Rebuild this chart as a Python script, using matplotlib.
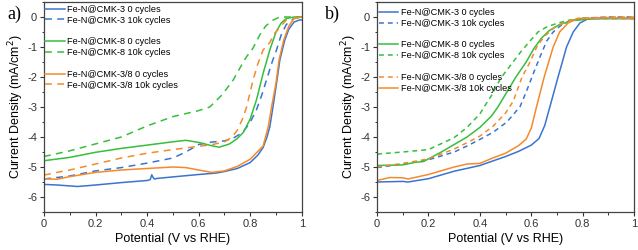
import numpy as np
import matplotlib
matplotlib.use('Agg')
import matplotlib.pyplot as plt
from matplotlib.lines import Line2D
from matplotlib.ticker import MultipleLocator

plt.rcParams['font.family'] = ['Liberation Sans', 'DejaVu Sans']

# Couleurs des échantillons
BLUE = '#3a74cf'
GREEN = '#35bf3c'
ORANGE = '#f48a2a'

# ---- Panel a : courbes ORR ----
a_cmk3_0_x = [0, 0.05, 0.1, 0.13, 0.2, 0.3, 0.4, 0.412, 0.418, 0.422, 0.428, 0.44, 0.5, 0.6, 0.67,
              0.7, 0.75, 0.8, 0.83, 0.85, 0.865, 0.876, 0.89, 0.902, 0.915, 0.934, 0.95, 0.97, 0.99, 1.0]
a_cmk3_0_y = [-5.58, -5.6, -5.63, -5.65, -5.6, -5.52, -5.45, -5.42, -5.26, -5.33, -5.4, -5.38, -5.33, -5.25, -5.2,
              -5.15, -5.05, -4.85, -4.6, -4.35, -4.0, -3.66, -2.9, -2.21, -1.43, -0.77, -0.4, -0.17, -0.1, -0.1]

a_cmk3_10k_x = [0, 0.1, 0.2, 0.3, 0.4, 0.5, 0.55, 0.6, 0.65, 0.7, 0.734, 0.77, 0.798, 0.824, 0.845,
                0.863, 0.885, 0.902, 0.92, 0.94, 0.97, 1.0]
a_cmk3_10k_y = [-5.4, -5.3, -5.13, -5.02, -4.87, -4.7, -4.5, -4.25, -4.17, -4.13, -4.04, -3.85, -3.54, -3.1, -2.6,
                -2.1, -1.5, -1.1, -0.6, -0.25, -0.05, 0.0]

a_cmk8_0_x = [0, 0.1, 0.2, 0.3, 0.4, 0.5, 0.55, 0.6, 0.65, 0.68, 0.72, 0.75, 0.773, 0.8, 0.824, 0.85,
              0.876, 0.9, 0.92, 0.94, 0.97, 1.0]
a_cmk8_0_y = [-4.79, -4.68, -4.51, -4.38, -4.27, -4.16, -4.11, -4.18, -4.29, -4.34, -4.23, -4.05, -3.85, -3.4,
              -2.77, -1.88, -1.1, -0.5, -0.2, -0.05, 0.0, 0.0]

a_cmk8_10k_x = [0, 0.1, 0.2, 0.3, 0.4, 0.5, 0.6, 0.643, 0.69, 0.734, 0.76, 0.786, 0.81, 0.837, 0.86,
                0.889, 0.915, 0.95, 1.0]
a_cmk8_10k_y = [-4.65, -4.46, -4.23, -4.0, -3.63, -3.32, -3.12, -3.0, -2.6, -2.1, -1.7, -1.32, -1.05, -0.6,
                -0.3, -0.1, 0.0, 0.0, 0.0]

a_cmk38_0_x = [0, 0.05, 0.1, 0.2, 0.3, 0.4, 0.5, 0.55, 0.6, 0.65, 0.7, 0.75, 0.8, 0.85, 0.87, 0.885,
               0.9, 0.912, 0.93, 0.95, 0.97, 1.0]
a_cmk38_0_y = [-5.39, -5.41, -5.32, -5.18, -5.1, -5.05, -5.0, -5.02, -5.1, -5.18, -5.13, -4.98, -4.74, -4.3,
               -3.66, -2.9, -2.2, -1.43, -0.77, -0.3, -0.05, 0.0]

a_cmk38_10k_x = [0, 0.05, 0.1, 0.2, 0.3, 0.4, 0.5, 0.6, 0.65, 0.7, 0.73, 0.75, 0.77, 0.786, 0.811, 0.83,
                 0.85, 0.876, 0.895, 0.94, 1.0]
a_cmk38_10k_y = [-5.27, -5.18, -5.1, -4.9, -4.7, -4.54, -4.42, -4.31, -4.26, -4.16, -4.0, -3.77, -3.4, -3.0,
                 -2.1, -1.55, -1.1, -0.85, -0.54, -0.1, 0.0]

# ---- Panel b ----
b_cmk3_0_x = [0, 0.1, 0.12, 0.2, 0.3, 0.4, 0.5, 0.55, 0.6, 0.63, 0.652, 0.672, 0.704, 0.737, 0.763,
              0.789, 0.82, 0.9, 1.0]
b_cmk3_0_y = [-5.5, -5.48, -5.5, -5.39, -5.14, -4.95, -4.65, -4.48, -4.27, -4.05, -3.62, -3.0, -2.0, -1.0,
              -0.5, -0.2, -0.06, -0.05, -0.05]

b_cmk3_10k_x = [0, 0.1, 0.2, 0.3, 0.35, 0.4, 0.45, 0.505, 0.53, 0.556, 0.58, 0.608, 0.635, 0.66, 0.685,
                0.712, 0.75, 0.8, 0.9, 1.0]
b_cmk3_10k_y = [-5.02, -4.9, -4.76, -4.5, -4.3, -4.08, -3.85, -3.5, -3.25, -2.99, -2.5, -1.88, -1.3, -0.8,
                -0.5, -0.3, -0.12, -0.04, 0.0, 0.0]

b_cmk8_0_x = [0, 0.1, 0.15, 0.18, 0.25, 0.3, 0.35, 0.4, 0.445, 0.47, 0.505, 0.54, 0.58, 0.61, 0.64, 0.67,
              0.71, 0.76, 0.85, 1.0]
b_cmk8_0_y = [-4.95, -4.93, -4.84, -4.82, -4.5, -4.25, -4.0, -3.68, -3.3, -3.0, -2.5, -2.0, -1.5, -1.05, -0.7,
              -0.45, -0.25, -0.12, -0.05, -0.05]

b_cmk8_10k_x = [0, 0.1, 0.2, 0.3, 0.35, 0.4, 0.42, 0.45, 0.48, 0.52, 0.56, 0.6, 0.626, 0.66, 0.704,
                0.75, 0.85, 1.0]
b_cmk8_10k_y = [-4.57, -4.5, -4.42, -4.02, -3.68, -3.23, -2.95, -2.55, -2.05, -1.6, -1.15, -0.75, -0.5, -0.33,
                -0.2, -0.1, -0.05, -0.05]

b_cmk38_0_x = [0, 0.1, 0.2, 0.3, 0.35, 0.4, 0.45, 0.5, 0.53, 0.564, 0.595, 0.621, 0.65, 0.686, 0.73,
               0.78, 0.9, 1.0]
b_cmk38_0_y = [-5.0, -4.88, -4.73, -4.4, -4.19, -3.97, -3.65, -3.2, -2.8, -2.0, -1.5, -1.0, -0.65, -0.38,
               -0.18, -0.05, 0.0, 0.0]

b_cmk38_10k_x = [0, 0.05, 0.1, 0.12, 0.2, 0.3, 0.35, 0.4, 0.45, 0.5, 0.55, 0.58, 0.6, 0.62, 0.65, 0.685,
                 0.71, 0.743, 0.78, 0.9, 1.0]
b_cmk38_10k_y = [-5.45, -5.35, -5.36, -5.4, -5.25, -5.0, -4.9, -4.88, -4.7, -4.54, -4.29, -4.07, -3.7,
                 -3.0, -2.0, -1.0, -0.5, -0.2, -0.05, -0.03, -0.05]

labels_a = ['Fe-N@CMK-3 0 cycles', 'Fe-N@CMK-3 10k cycles',
            'Fe-N@CMK-8 0 cycles', 'Fe-N@CMK-8 10k cycles',
            'Fe-N@CMK-3/8 0 cycles', 'Fe-N@CMK-3/8 10k cycles']

fig = plt.figure(figsize=(6.38, 2.5), dpi=100)
ax_a = fig.add_axes([0.069, 0.152, 0.404, 0.84])
ax_b = fig.add_axes([0.591, 0.152, 0.403, 0.84])

LW = 1.1
dash_a = (4.5, 3.5)
dash_b = (3.2, 2.6)

# panel a
ax_a.plot(a_cmk3_0_x, a_cmk3_0_y, color=BLUE, lw=LW)
ax_a.plot(a_cmk3_10k_x, a_cmk3_10k_y, color=BLUE, lw=LW, ls='--', dashes=dash_a)
ax_a.plot(a_cmk8_0_x, a_cmk8_0_y, color=GREEN, lw=LW)
ax_a.plot(a_cmk8_10k_x, a_cmk8_10k_y, color=GREEN, lw=LW, ls='--', dashes=dash_a)
ax_a.plot(a_cmk38_0_x, a_cmk38_0_y, color=ORANGE, lw=LW)
ax_a.plot(a_cmk38_10k_x, a_cmk38_10k_y, color=ORANGE, lw=LW, ls='--', dashes=dash_a)

# panel b
ax_b.plot(b_cmk3_0_x, b_cmk3_0_y, color=BLUE, lw=LW)
ax_b.plot(b_cmk3_10k_x, b_cmk3_10k_y, color=BLUE, lw=LW, ls='--', dashes=dash_b)
ax_b.plot(b_cmk8_0_x, b_cmk8_0_y, color=GREEN, lw=LW)
ax_b.plot(b_cmk8_10k_x, b_cmk8_10k_y, color=GREEN, lw=LW, ls='--', dashes=dash_b)
ax_b.plot(b_cmk38_0_x, b_cmk38_0_y, color=ORANGE, lw=LW, ls='--', dashes=dash_b)
ax_b.plot(b_cmk38_10k_x, b_cmk38_10k_y, color=ORANGE, lw=LW)


def blank():
    return Line2D([], [], color='none')


def legend_handles(dash, orange_swap=False):
    h = [Line2D([], [], color=BLUE, lw=LW),
         Line2D([], [], color=BLUE, lw=LW, ls='--', dashes=dash),
         blank(),
         Line2D([], [], color=GREEN, lw=LW),
         Line2D([], [], color=GREEN, lw=LW, ls='--', dashes=dash),
         blank()]
    if orange_swap:
        h += [Line2D([], [], color=ORANGE, lw=LW, ls='--', dashes=dash),
              Line2D([], [], color=ORANGE, lw=LW)]
    else:
        h += [Line2D([], [], color=ORANGE, lw=LW),
              Line2D([], [], color=ORANGE, lw=LW, ls='--', dashes=dash)]
    return h


labels_leg = labels_a[:2] + [''] + labels_a[2:4] + [''] + labels_a[4:]

for ax, dash, swap, panel, anchor, px in [(ax_a, dash_a, False, 'a)', (-0.005, 1.0), 0.011),
                                          (ax_b, dash_b, True, 'b)', (-0.005, 0.985), 0.509)]:
    ax.set_xlim(0, 1)
    ax.set_ylim(-6.5, 0.5)
    ax.xaxis.set_major_locator(MultipleLocator(0.2))
    ax.xaxis.set_minor_locator(MultipleLocator(0.1))
    ax.yaxis.set_major_locator(MultipleLocator(1))
    ax.yaxis.set_minor_locator(MultipleLocator(0.5))
    ax.set_xticks([0, 0.2, 0.4, 0.6, 0.8, 1.0])
    ax.set_xticklabels(['0', '0.2', '0.4', '0.6', '0.8', '1'])
    ax.set_yticks([-6, -5, -4, -3, -2, -1, 0])
    ax.set_yticklabels(['-6', '-5', '-4', '-3', '-2', '-1', '0'])
    ax.tick_params(which='major', length=3, width=0.8, labelsize=8, colors='#333333', pad=2)
    ax.tick_params(which='minor', length=1.8, width=0.7, colors='#333333')
    for sp in ax.spines.values():
        sp.set_color('#444444')
        sp.set_linewidth(0.9)
    ax.set_xlabel('Potential (V vs RHE)', fontsize=9, labelpad=3)
    ax.set_ylabel('Current Density (mA/cm$^2$)', fontsize=9, labelpad=1)
    leg = ax.legend(legend_handles(dash, swap), labels_leg, loc='upper left', bbox_to_anchor=anchor,
                    frameon=False, fontsize=6.6, handlelength=2.1, handletextpad=0.3,
                    labelspacing=0.2, borderpad=0.2, borderaxespad=0.1)
    fig.text(px, 0.925, panel, fontsize=13, family='Liberation Serif')

fig.savefig('out.png', dpi=100)
